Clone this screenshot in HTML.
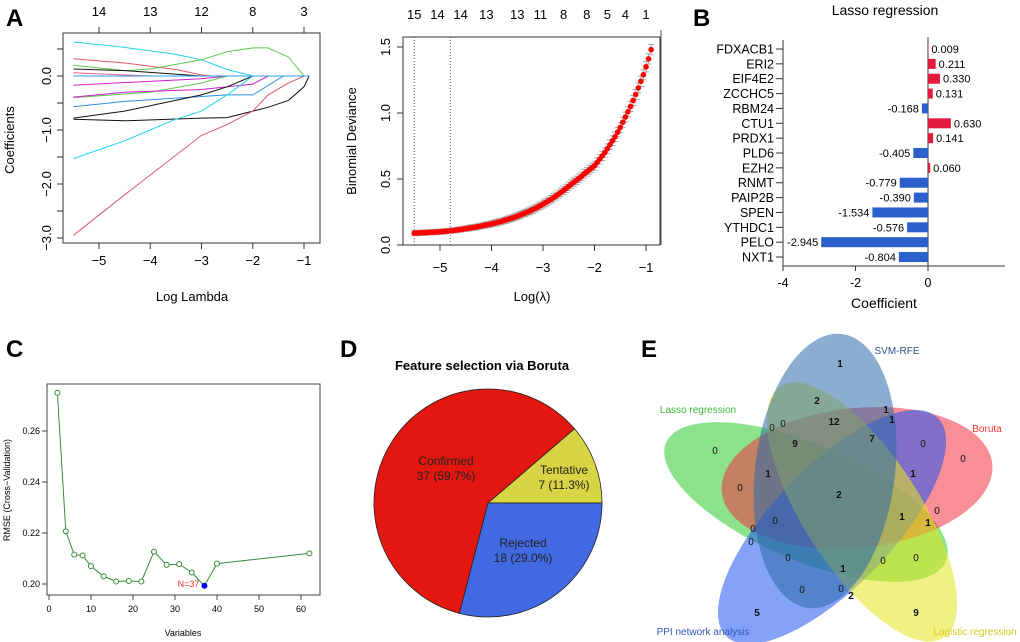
<!DOCTYPE html>
<html><head><meta charset="utf-8">
<style>
html,body{margin:0;padding:0;background:#fff;overflow:hidden;height:642px;width:1020px;}
svg{display:block;font-family:"Liberation Sans",Arial,sans-serif;overflow:hidden;}
</style></head>
<body>
<svg id="fig" width="1020" height="642" viewBox="0 0 1020 642" xmlns="http://www.w3.org/2000/svg">
<text x="6" y="26" font-size="24" font-weight="bold">A</text>
<text x="693" y="26" font-size="24" font-weight="bold">B</text>
<text x="6" y="357" font-size="24" font-weight="bold">C</text>
<text x="340" y="357" font-size="24" font-weight="bold">D</text>
<text x="641" y="357" font-size="24" font-weight="bold">E</text>
<line x1="661" y1="30" x2="661" y2="245" stroke="#555" stroke-width="1"/>
<g id="pA1"></g>
<g id="pA2"></g>
<g id="pB"></g>
<g id="pC"></g>
<g id="pD"></g>
<g id="pE"></g>
</svg>
<script>
// ---------- Data ----------
const pathColors = ["#22d3e6","#e05a6a","#5cc84a","#5cc84a","#111111","#f06090","#d020d0","#d020d0","#2f8de8","#111111","#111111","#22d3e6","#e05a6a","#2f9fe8"];
const pathXs = [
 [-5.5,-4.5,-3.5,-3,-2.5,-2,-0.9],
 [-5.5,-4.5,-3.5,-3,-2.8,-0.9],
 [-5.5,-4.5,-4,-3,-2.5,-2,-1.7,-1.3,-1,-0.9],
 [-5.5,-4,-3,-2.5,-0.9],
 [-5.5,-4.5,-3,-2.5,-0.9],
 [-5.5,-4,-0.9],
 [-5.5,-3,-2.5,-0.9],
 [-5.5,-4.5,-3,-2,-1.7,-0.9],
 [-5.5,-4.5,-3,-2.5,-2,-1.4,-0.9],
 [-5.5,-4.5,-3,-2.5,-2,-0.9],
 [-5.5,-4.5,-3,-2.5,-2,-1.7,-1.3,-1,-0.9],
 [-5.5,-4.5,-3.5,-3,-2.5,-2,-0.9],
 [-5.5,-4.5,-3,-2.5,-2,-1.7,-1.3,-1,-0.9],
 [-5.5,-0.9]
];
const pathYs = [
 [0.63,0.53,0.4,0.3,0.12,0,0],
 [0.32,0.24,0.12,0.02,0,0],
 [0.2,0.1,0.13,0.3,0.45,0.52,0.52,0.35,0,0],
 [-0.4,-0.3,-0.13,0,0],
 [0.13,0.1,0,0,0],
 [0.06,0,0],
 [-0.17,-0.05,0,0],
 [-0.39,-0.3,-0.25,-0.15,0,0],
 [-0.57,-0.47,-0.38,-0.35,-0.35,0,0],
 [-0.78,-0.65,-0.35,-0.2,0,0],
 [-0.8,-0.83,-0.78,-0.77,-0.65,-0.58,-0.45,-0.2,0],
 [-1.53,-1.2,-0.8,-0.65,-0.35,0,0],
 [-2.95,-2.2,-1.1,-0.9,-0.65,-0.35,-0.13,0,0],
 [0,0]
];
const a1XTicks = [-5,-4,-3,-2,-1];
const a1YTicks = [0,-1,-2,-3];
const a1TopVals = [-5,-4,-3,-2,-1];
const a1TopLabels = ["14","13","12","8","3"];

const devStartX = -5.5;
const devStep = 0.05;
const devVals = [0.090,0.091,0.092,0.093,0.094,0.095,0.096,0.097,0.098,0.099,0.100,0.102,0.104,0.106,0.108,0.110,0.112,0.115,0.118,0.121,0.124,0.127,0.130,0.133,0.136,0.140,0.144,0.148,0.152,0.156,0.160,0.165,0.170,0.175,0.180,0.186,0.192,0.198,0.204,0.211,0.218,0.226,0.234,0.242,0.250,0.259,0.268,0.278,0.288,0.298,0.310,0.321,0.333,0.345,0.358,0.371,0.385,0.399,0.414,0.429,0.445,0.461,0.476,0.49,0.505,0.52,0.54,0.555,0.57,0.585,0.60,0.625,0.65,0.675,0.70,0.73,0.76,0.79,0.82,0.855,0.89,0.93,0.97,1.01,1.05,1.095,1.14,1.19,1.24,1.29,1.35,1.41,1.48];
const devErr = [0.02,0.02,0.02,0.02,0.02,0.02,0.02,0.02,0.02,0.02,0.022,0.022,0.022,0.022,0.024,0.024,0.025,0.025,0.026,0.026,0.027,0.027,0.028,0.028,0.029,0.03,0.03,0.03,0.031,0.031,0.032,0.032,0.033,0.033,0.034,0.034,0.035,0.035,0.036,0.036,0.037,0.037,0.038,0.038,0.039,0.039,0.04];
const a2XTicks = [-5,-4,-3,-2,-1];
const a2YTicks = [0,0.5,1.0,1.5];
const a2YLabels = ["0.0","0.5","1.0","1.5"];
const a2TopVals = [-5.5,-5.05,-4.6,-4.1,-3.5,-3.05,-2.6,-2.15,-1.75,-1.4,-1];
const a2TopLabels = ["15","14","14","13","13","11","8","8","5","4","1"];
const a2VLines = [-5.5,-4.8];

const genes = ["FDXACB1","ERI2","EIF4E2","ZCCHC5","RBM24","CTU1","PRDX1","PLD6","EZH2","RNMT","PAIP2B","SPEN","YTHDC1","PELO","NXT1"];
const coefs = [0.009,0.211,0.330,0.131,-0.168,0.630,0.141,-0.405,0.060,-0.779,-0.390,-1.534,-0.576,-2.945,-0.804];
const bXTicks = [-4,-2,0];

const varCounts = [2,4,6,8,10,13,16,19,22,25,28,31,34,37,40,62];
const rmseVals = [0.275,0.2207,0.2115,0.2112,0.207,0.203,0.201,0.2012,0.201,0.2127,0.2075,0.2078,0.2045,0.1993,0.208,0.212];
const cXTicks = [0,10,20,30,40,50,60];
const cYTicks = [0.20,0.22,0.24,0.26];
const bestN = 37;

const pieLabels = ["Tentative","Confirmed","Rejected"];
const pieCounts = [7,37,18];
const pieColors = ["#d9d443","#e3170f","#4169e1"];

const vennNums = ["1","2","1","1","0","0","12","9","7","0","0","0","1","1","0","2","0","1","1","0","0","0","0","0","0","1","0","0","2","5","9"];

// ---------- Helpers ----------
const NS = "http://www.w3.org/2000/svg";
function mk(parent, tag, attrs, text){
  const e = document.createElementNS(NS, tag);
  for (const k in attrs) e.setAttribute(k, attrs[k]);
  if (text !== undefined) e.textContent = text;
  parent.appendChild(e);
  return e;
}
function lin(d0,d1,r0,r1){ return v => r0 + (v-d0)*(r1-r0)/(d1-d0); }

// ---------- Panel A1 ----------
(function(){
  const g = document.getElementById("pA1");
  const x = lin(-5,-1,99,304), y = lin(0,-3,76,238);
  const box = mk(g,"rect",{x:63,y:33,width:257,height:210,fill:"none",stroke:"#333"});
  
  
  pathXs.forEach((xs,i)=>{
    const d = xs.map((xv,j)=>(j?"L":"M")+x(xv).toFixed(1)+","+y(pathYs[i][j]).toFixed(1)).join("");
    const p = mk(g,"path",{d:d,fill:"none",stroke:pathColors[i],"stroke-width":1});
    
    
  });
  a1XTicks.forEach(t=>{
    mk(g,"line",{x1:x(t),y1:243,x2:x(t),y2:249,stroke:"#333"});
    const l = mk(g,"text",{x:x(t),y:265,"font-size":13,"text-anchor":"middle"},"\u2212"+Math.abs(t));
    
    
  });
  a1TopVals.forEach((t,i)=>{
    mk(g,"line",{x1:x(t),y1:33,x2:x(t),y2:27,stroke:"#333"});
    const l = mk(g,"text",{x:x(t),y:16,"font-size":13,"text-anchor":"middle"},a1TopLabels[i]);
    
    
  });
  [0.5,0,-0.5,-1,-1.5,-2,-2.5,-3].forEach(t=>mk(g,"line",{x1:63,y1:y(t),x2:57,y2:y(t),stroke:"#333"}));
  a1YTicks.forEach(t=>{
    const l = mk(g,"text",{x:0,y:0,"font-size":13,"text-anchor":"middle",transform:`translate(51,${y(t)}) rotate(-90)`},(t<0?"\u2212":"")+Math.abs(t).toFixed(1));
    
    
  });
  const yt = mk(g,"text",{x:0,y:0,"font-size":13,"text-anchor":"middle",transform:"translate(14,140) rotate(-90)"},"Coefficients");
  
  
  const xt = mk(g,"text",{x:192,y:301,"font-size":13,"text-anchor":"middle"},"Log Lambda");
  
  
})();

// ---------- Panel A2 ----------
(function(){
  const g = document.getElementById("pA2");
  const x = lin(-5,-1,440,646), y = lin(0,1.5,245,47);
  const box = mk(g,"rect",{x:403,y:37,width:257,height:208,fill:"none",stroke:"#333"});
  
  
  a2VLines.forEach(v=>{
    const l = mk(g,"line",{x1:x(v),y1:37,x2:x(v),y2:245,stroke:"#555","stroke-dasharray":"1,2"});
    
    
  });
  devVals.forEach((v,i)=>{
    const cx = x(devStartX + i*devStep);
    const e = devErr[Math.min(devErr.length-1, Math.floor(i/2))];
    const eb = mk(g,"path",{d:`M${cx},${y(v-e)}L${cx},${y(v+e)}M${cx-3},${y(v-e)}L${cx+3},${y(v-e)}M${cx-3},${y(v+e)}L${cx+3},${y(v+e)}`,stroke:"#aaa","stroke-width":1,fill:"none"});
    
    
  });
  devVals.forEach((v,i)=>{
    const c = mk(g,"circle",{cx:x(devStartX + i*devStep),cy:y(v),r:2.8,fill:"#f00"});
    
    
  });
  a2XTicks.forEach(t=>{
    mk(g,"line",{x1:x(t),y1:245,x2:x(t),y2:251,stroke:"#333"});
    const l = mk(g,"text",{x:x(t),y:272,"font-size":13,"text-anchor":"middle"},"\u2212"+Math.abs(t));
    
    
  });
  a2TopVals.forEach((t,i)=>{
    const l = mk(g,"text",{x:x(t),y:19,"font-size":13,"text-anchor":"middle"},a2TopLabels[i]);
    
    
  });
  a2YTicks.forEach((t,i)=>{
    mk(g,"line",{x1:403,y1:y(t),x2:397,y2:y(t),stroke:"#333"});
    const l = mk(g,"text",{x:0,y:0,"font-size":13,"text-anchor":"middle",transform:`translate(390,${y(t)}) rotate(-90)`},a2YLabels[i]);
    
    
  });
  const yt = mk(g,"text",{x:0,y:0,"font-size":13,"text-anchor":"middle",transform:"translate(356,141) rotate(-90)"},"Binomial Deviance");
  
  
  const xt = mk(g,"text",{x:532,y:301,"font-size":13,"text-anchor":"middle"},"Log(\u03bb)");
  
  
})();

// ---------- Panel B ----------
(function(){
  const g = document.getElementById("pB");
  const x = lin(0,-4,928,783);
  const rowY = i => 49 + i*14.86;
  const tt = mk(g,"text",{x:885,y:15,"font-size":14,"text-anchor":"middle"},"Lasso regression");
  
  
  mk(g,"line",{x1:783,y1:40,x2:783,y2:266,stroke:"#333"});
  mk(g,"line",{x1:783,y1:266,x2:1005,y2:266,stroke:"#333"});
  mk(g,"line",{x1:928,y1:37,x2:928,y2:266,stroke:"#333"});
  genes.forEach((gn,i)=>{
    const yy = rowY(i), v = coefs[i];
    mk(g,"line",{x1:776,y1:yy,x2:783,y2:yy,stroke:"#333"});
    const l = mk(g,"text",{x:774,y:yy+4.5,"font-size":12.5,"text-anchor":"end"},gn);
    
    
    const x0 = Math.min(x(0),x(v)), w = Math.abs(x(v)-x(0));
    const b = mk(g,"rect",{x:x0,y:yy-5,width:Math.max(w,0.5),height:10,fill:v>=0?"#e31a3c":"#2a5fcc"});
    
    
    const vl = mk(g,"text",{x:v>=0?x(v)+3:x(v)-3,y:yy+4,"font-size":11,"text-anchor":v>=0?"start":"end"},v.toFixed(3));
    
    
  });
  bXTicks.forEach(t=>{
    mk(g,"line",{x1:x(t),y1:266,x2:x(t),y2:271,stroke:"#333"});
    const l = mk(g,"text",{x:x(t),y:287,"font-size":12.5,"text-anchor":"middle"},String(t));
    
    
  });
  const xt = mk(g,"text",{x:884,y:308,"font-size":14,"text-anchor":"middle"},"Coefficient");
  
  
})();

// ---------- Panel C ----------
(function(){
  const g = document.getElementById("pC");
  const x = lin(0,60,49,301), y = lin(0.20,0.26,584,431);
  const box = mk(g,"rect",{x:47,y:384,width:273,height:211,fill:"none",stroke:"#444"});
  
  
  const d = varCounts.map((v,i)=>(i?"L":"M")+x(v).toFixed(1)+","+y(rmseVals[i]).toFixed(1)).join("");
  const ln = mk(g,"path",{d:d,fill:"none",stroke:"#3a8a3a","stroke-width":1});
  
  
  varCounts.forEach((v,i)=>{
    const best = v===bestN;
    const c = mk(g,"circle",{cx:x(v),cy:y(rmseVals[i]),r:2.5,fill:best?"#0000ee":"#fff",stroke:best?"#0000ee":"#3a8a3a","stroke-width":1});
    
    
    if(best){
      const t = mk(g,"text",{x:x(v)-5,y:y(rmseVals[i])+1,"font-size":9,fill:"#f03030","text-anchor":"end"},"N="+v);
      
      
    }
  });
  cXTicks.forEach(t=>{
    mk(g,"line",{x1:x(t),y1:595,x2:x(t),y2:600,stroke:"#444"});
    const l = mk(g,"text",{x:x(t),y:612,"font-size":9,"text-anchor":"middle"},String(t));
    
    
  });
  cYTicks.forEach(t=>{
    mk(g,"line",{x1:47,y1:y(t),x2:42,y2:y(t),stroke:"#444"});
    const l = mk(g,"text",{x:40,y:y(t)+3,"font-size":9,"text-anchor":"end"},t.toFixed(2));
    
    
  });
  const yt = mk(g,"text",{x:0,y:0,"font-size":9,"text-anchor":"middle",transform:"translate(10,490) rotate(-90)"},"RMSE (Cross\u2212Validation)");
  
  
  const xt = mk(g,"text",{x:183,y:636,"font-size":9,"text-anchor":"middle"},"Variables");
  
  
})();

// ---------- Panel D ----------
(function(){
  const g = document.getElementById("pD");
  const cx = 488, cy = 503, r = 114;
  const tt = mk(g,"text",{x:482,y:370,"font-size":13,"font-weight":"bold","text-anchor":"middle"},"Feature selection via Boruta");
  
  
  const total = pieCounts.reduce((a,b)=>a+b,0);
  let a0 = 0;
  const labelPos = [[564,474],[446,465],[523,547]];
  pieCounts.forEach((c,i)=>{
    const a1 = a0 + c/total*2*Math.PI;
    const x0 = cx + r*Math.cos(a0), y0 = cy - r*Math.sin(a0);
    const x1 = cx + r*Math.cos(a1), y1 = cy - r*Math.sin(a1);
    const large = (a1-a0) > Math.PI ? 1 : 0;
    const s = mk(g,"path",{d:`M${cx},${cy}L${x0},${y0}A${r},${r} 0 ${large} 0 ${x1},${y1}Z`,fill:pieColors[i],stroke:"#222","stroke-width":0.8});
    
    
    const pct = (c/total*100).toFixed(1);
    const t = mk(g,"text",{x:labelPos[i][0],y:labelPos[i][1],"font-size":12,"text-anchor":"middle",fill:"#222"});
    
    
    mk(t,"tspan",{x:labelPos[i][0],dy:0},pieLabels[i]);
    mk(t,"tspan",{x:labelPos[i][0],dy:15},`${c} (${pct}%)`);
    a0 = a1;
  });
})();

// ---------- Panel E ----------
(function(){
  const g = document.getElementById("pE");
  const ells = [
    {name:"lasso-set",cx:806,cy:502,rx:152,ry:58,rot:23,fill:"#2ecc2e"},
    {name:"boruta-set",cx:857,cy:478,rx:136,ry:70,rot:-6,fill:"#f2323f"},
    {name:"ppi-set",cx:832,cy:527,rx:152,ry:60,rot:-46,fill:"#1f55f0"},
    {name:"logistic-set",cx:862,cy:512,rx:150,ry:58,rot:57,fill:"#e5e51e"},
    {name:"svm-rfe-set",cx:825,cy:471,rx:70,ry:138,rot:7,fill:"#2b6aa8"}
  ];
  ells.forEach(e=>{
    const el = mk(g,"ellipse",{cx:e.cx,cy:e.cy,rx:e.rx,ry:e.ry,fill:e.fill,"fill-opacity":0.55,transform:`rotate(${e.rot} ${e.cx} ${e.cy})`});
    
    
  });
  const labs = [
    ["SVM-RFE",897,354,"#2b4f8a","middle"],
    ["Lasso regression",698,413,"#3dbb3d","middle"],
    ["Boruta",987,432,"#e33","middle"],
    ["PPI network analysis",703,635,"#3355bb","middle"],
    ["Logistic regression",975,635,"#d4cc1f","middle"]
  ];
  labs.forEach(l=>{
    const t = mk(g,"text",{x:l[1],y:l[2],"font-size":10,fill:l[3],"text-anchor":l[4]},l[0]);
    
    
  });
  const numPos = [[840,363],[817,400],[886,409],[892,419],[772,427],[783,423],[834,421],[795,443],[872,438],[923,443],[715,450],[963,458],[768,473],[913,473],[740,487],[839,494],[937,510],[902,516],[928,522],[775,520],[753,528],[751,541],[788,557],[883,560],[916,557],[843,568],[802,589],[841,588],[851,595],[757,612],[916,612]];
  vennNums.forEach((n,i)=>{
    const t = mk(g,"text",{x:numPos[i][0],y:numPos[i][1]+4,"font-size":10,"font-weight":n==="0"?"normal":"bold","text-anchor":"middle",fill:"#111"},n);
    
    
  });
})();
</script>
</body></html>
